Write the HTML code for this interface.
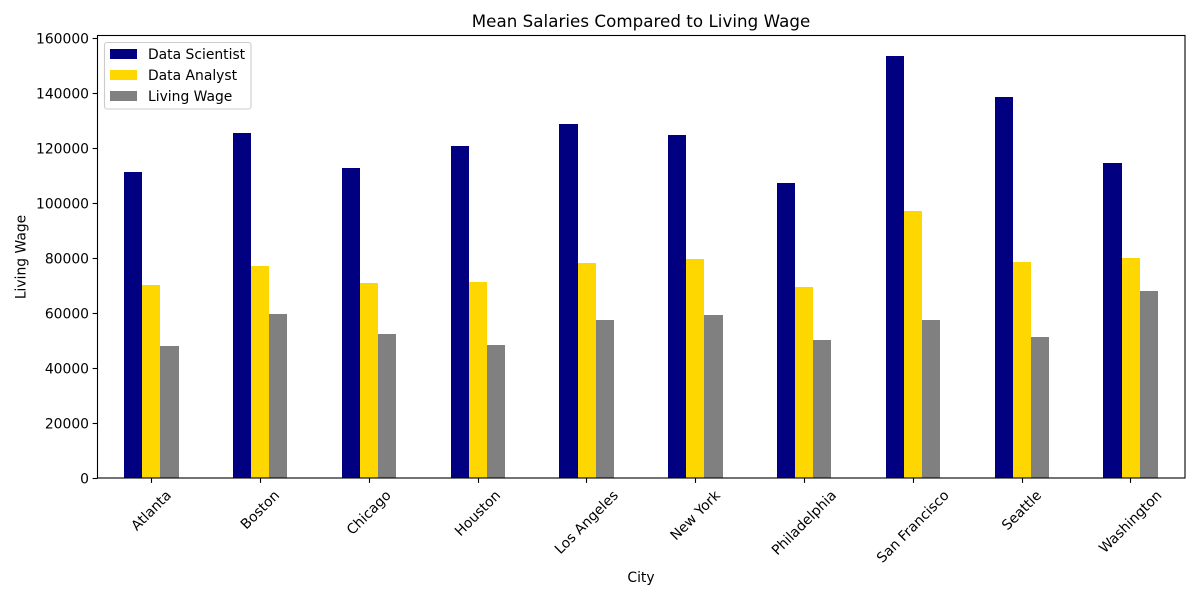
<!DOCTYPE html>
<html>
<head>
<meta charset="utf-8">
<title>Mean Salaries Compared to Living Wage</title>
<style>
html,body{margin:0;padding:0;background:#fff;}
svg{display:block;}
text{font-family:"DejaVu Sans",sans-serif;font-size:13.89px;fill:#000;}
</style>
</head>
<body>
<svg id="chart" width="1200" height="600" viewBox="0 0 1200 600" xmlns="http://www.w3.org/2000/svg">
  <rect x="0" y="0" width="1200" height="600" fill="#fff"/>
  <g id="bars"></g>
  <g id="xaxis"></g>
  <g id="yaxis"></g>
  <rect x="97.5" y="35.5" width="1087.5" height="442.5" fill="none" stroke="#000" stroke-width="1.1"/>
  <text x="641" y="27" text-anchor="middle" style="font-size:16.67px;letter-spacing:0.05px">Mean Salaries Compared to Living Wage</text>
  <text x="641" y="582" text-anchor="middle">City</text>
  <text transform="translate(25.5,257) rotate(-90)" text-anchor="middle">Living Wage</text>
  <g id="legend">
    <rect x="104.5" y="42.5" width="146.5" height="66.5" rx="2.5" fill="#fff" fill-opacity="0.8" stroke="#ccc" stroke-width="1.1"/>
  </g>
</svg>
<script>
const categories = ["Atlanta","Boston","Chicago","Houston","Los Angeles","New York","Philadelphia","San Francisco","Seattle","Washington"];
const dataScientist = [111300,125400,112700,120600,128700,124700,107200,153400,138500,114500];
const dataAnalyst = [70100,77100,70800,71400,78100,79500,69500,97000,78500,80000];
const livingWage = [48000,59600,52400,48300,57400,59200,50100,57500,51300,68000];
const yTicks = [0,20000,40000,60000,80000,100000,120000,140000,160000];
const seriesNames = ["Data Scientist","Data Analyst","Living Wage"];

const NS = "http://www.w3.org/2000/svg";
const colors = ["#000080","#ffd700","#808080"];
const left = 97.0, right = 1185.0, top_ = 35.5, bottom = 478;
const yMax = 160900;
const seriesValues = [dataScientist, dataAnalyst, livingWage];
const seriesSlugs = ["data-scientist","data-analyst","living-wage"];
const barWidth = 0.5 / 3;

function xScale(v){ return left + (v + 0.5) * (right - left) / categories.length; }
function yScale(v){ return bottom - v * (bottom - top_) / yMax; }
function make(tag, attrs, parent){
  const el = document.createElementNS(NS, tag);
  for (const k in attrs) el.setAttribute(k, attrs[k]);
  parent.appendChild(el);
  return el;
}

const barsG = document.getElementById("bars");
seriesValues.forEach(function(vals, s){
  vals.forEach(function(v, i){
    const x0 = Math.round(xScale(i + (s - 1.5) * barWidth));
    const x1 = Math.round(xScale(i + (s - 0.5) * barWidth));
    const yTop = Math.round(yScale(v));
    const r = make("rect", {x:x0, y:yTop, width:x1 - x0, height:bottom - yTop, fill:colors[s]}, barsG);
    
    
  });
});

const xG = document.getElementById("xaxis");
categories.forEach(function(c, i){
  const x = xScale(i);
  const tx = Math.floor(x + 0.2) + 0.5;
  const t = make("line", {x1:tx, x2:tx, y1:bottom, y2:bottom + 4.9, stroke:"#000", "stroke-width":1.1}, xG);
  
  
  const l = make("text", {"text-anchor":"middle"}, xG);
  l.textContent = c;
  
  
  const w = l.getComputedTextLength();
  const h = 13;
  const cy = 488 + (w + h) / 2 * Math.SQRT1_2;
  l.setAttribute("transform", "translate(" + (x - 0.5) + "," + cy + ") rotate(-45) translate(0,5)");
});

const yG = document.getElementById("yaxis");
yTicks.forEach(function(v){
  const y = yScale(v);
  const ty = Math.round(y) + 0.5;
  const t = make("line", {x1:97.5 - 4.9, x2:97.5, y1:ty, y2:ty, stroke:"#000", "stroke-width":1.1}, yG);
  
  
  const l = make("text", {x:97.5 - 8.5, y:Math.round(y) + 5.5, "text-anchor":"end"}, yG);
  l.textContent = String(v);
  
  
});

const legendG = document.getElementById("legend");
seriesNames.forEach(function(n, i){
  const y = 49 + i * 21;
  const sw = make("rect", {x:110, y:y, width:27, height:10, fill:colors[i]}, legendG);
  
  
  const l = make("text", {x:148, y:y + 10}, legendG);
  l.textContent = n;
  
  
});
</script>
</body>
</html>
